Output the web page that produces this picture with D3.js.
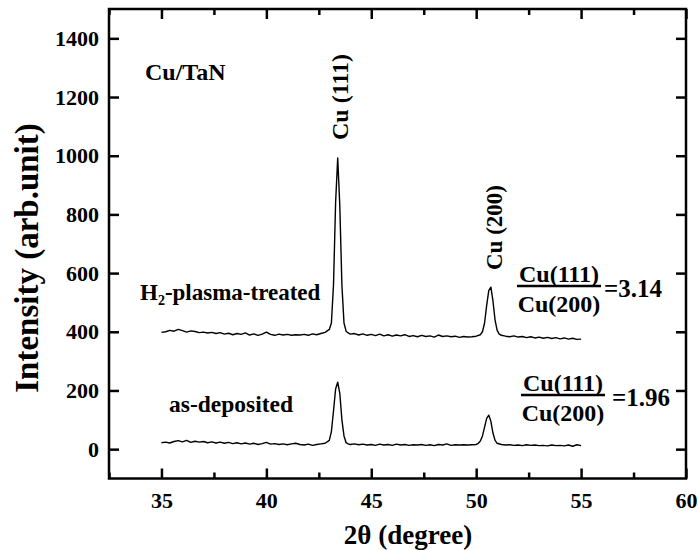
<!DOCTYPE html>
<html>
<head>
<meta charset="utf-8">
<script src="https://cdn.jsdelivr.net/npm/d3@7"></script>
<style>
  body { margin: 0; background: #fff; }
  text { font-family: "Liberation Serif", "Times New Roman", serif; font-weight: bold; fill: #000; }
</style>
</head>
<body>
<div id="chart"></div>
<script>
// 2theta (degree) and intensity readings, H2-plasma-treated sample
const treatedAngle = [35.0,35.2,35.4,35.6,35.8,36.0,36.2,36.4,36.6,36.8,37.0,37.2,37.4,37.6,37.8,38.0,38.2,38.4,38.6,38.8,
  39.0,39.2,39.4,39.6,39.8,40.0,40.2,40.4,40.6,40.8,41.0,41.2,41.4,41.6,41.8,42.0,42.2,42.4,42.6,42.8,
  43.0,43.1,43.2,43.3,43.4,43.5,43.6,43.7,43.8,43.9,44.0,44.2,44.4,44.6,44.8,45.0,45.2,45.4,45.6,45.8,
  46.0,46.2,46.4,46.6,46.8,47.0,47.2,47.4,47.6,47.8,48.0,48.2,48.4,48.6,48.8,49.0,49.2,49.4,49.6,49.8,
  50.0,50.2,50.3,50.4,50.5,50.6,50.7,50.8,50.9,51.0,51.1,51.2,51.4,51.6,51.8,52.0,52.2,52.4,52.6,52.8,
  53.0,53.2,53.4,53.6,53.8,54.0,54.2,54.4,54.6,54.8,55.0];
const treatedIntensity = [398,400,405,402,408,404,399,403,401,397,399,396,398,394,397,392,395,390,394,391,
  396,389,393,388,392,399,391,388,392,389,391,388,390,389,391,388,393,390,394,398,
  408,430,560,840,992,830,560,430,402,396,392,394,389,393,388,391,387,392,386,390,
  385,389,386,390,384,387,383,388,384,386,382,389,384,386,383,385,381,384,382,383,
  385,390,400,430,490,540,552,505,440,405,392,388,385,383,386,382,384,380,383,379,
  382,378,381,377,380,376,379,375,378,374,375];

// as-deposited sample
const depositedAngle = [35.0,35.2,35.4,35.6,35.8,36.0,36.2,36.4,36.6,36.8,37.0,37.2,37.4,37.6,37.8,38.0,38.2,38.4,38.6,38.8,
  39.0,39.2,39.4,39.6,39.8,40.0,40.2,40.4,40.6,40.8,41.0,41.2,41.4,41.6,41.8,42.0,42.2,42.4,42.6,42.8,
  43.0,43.1,43.2,43.3,43.4,43.5,43.6,43.7,43.8,43.9,44.0,44.2,44.4,44.6,44.8,45.0,45.2,45.4,45.6,45.8,
  46.0,46.2,46.4,46.6,46.8,47.0,47.2,47.4,47.6,47.8,48.0,48.2,48.4,48.6,48.8,49.0,49.2,49.4,49.6,49.8,
  50.0,50.1,50.2,50.3,50.4,50.5,50.6,50.7,50.8,50.9,51.0,51.2,51.4,51.6,51.8,52.0,52.2,52.4,52.6,52.8,
  53.0,53.2,53.4,53.6,53.8,54.0,54.2,54.4,54.6,54.8,55.0];
const depositedIntensity = [22,24,21,26,29,25,30,23,27,24,26,22,25,21,24,20,23,19,22,18,
  21,17,20,16,19,23,17,19,16,18,15,18,20,16,14,17,13,16,18,20,
  30,60,130,205,228,190,100,45,22,18,16,18,15,17,14,16,13,17,14,16,
  13,17,14,16,13,15,14,16,13,15,12,16,14,18,13,15,14,15,14,15,
  16,20,28,45,75,105,116,95,55,30,20,16,14,15,13,14,12,15,13,14,
  12,13,11,14,12,13,11,14,10,15,12];

const xMajor = [35, 40, 45, 50, 55, 60];
const xMinor = [32.5, 37.5, 42.5, 47.5, 52.5, 57.5];
const yMajor = [0, 200, 400, 600, 800, 1000, 1200, 1400];

const W = 699, H = 550;
const margin = { top: 9, right: 13, bottom: 71.5, left: 109 },
    width = W - margin.left - margin.right,
    height = H - margin.top - margin.bottom;

const svg = d3.select("#chart").append("svg")
    .attr("width", W)
    .attr("height", H);

const g = svg.append("g")
    .attr("transform", "translate(" + margin.left + "," + margin.top + ")");

const x = d3.scaleLinear().domain([32.5, 60]).range([0, width]);
const y = d3.scaleLinear().domain([-100, 1500]).range([height, 0]);

// axes with inward ticks
function styleAxis(sel) {
    sel.select(".domain").remove();
    sel.selectAll(".tick line").attr("stroke", "#000").attr("stroke-width", 2.5);
    sel.selectAll(".tick text").style("font-size", "22px").style("font-family", null);
}

g.append("g")
    .attr("transform", "translate(0," + height + ")")
    .call(d3.axisBottom(x).tickValues(xMajor).tickSize(-10).tickPadding(14).tickFormat(d3.format("d")))
    .call(styleAxis);
g.append("g")
    .attr("transform", "translate(0," + height + ")")
    .call(d3.axisBottom(x).tickValues(xMinor).tickSize(-6).tickFormat(""))
    .call(styleAxis);
g.append("g")
    .call(d3.axisTop(x).tickValues(xMajor).tickSize(-10).tickFormat(""))
    .call(styleAxis);
g.append("g")
    .call(d3.axisTop(x).tickValues(xMinor).tickSize(-6).tickFormat(""))
    .call(styleAxis);
g.append("g")
    .call(d3.axisLeft(y).tickValues(yMajor).tickSize(-10).tickPadding(10).tickFormat(d3.format("d")))
    .call(styleAxis);
g.append("g")
    .attr("transform", "translate(" + width + ",0)")
    .call(d3.axisRight(y).tickValues(yMajor).tickSize(-10).tickFormat(""))
    .call(styleAxis);

g.selectAll(".tick text").attr("fill", "#000");

// frame
g.append("rect")
    .attr("width", width)
    .attr("height", height)
    .attr("fill", "none")
    .attr("stroke", "#000")
    .attr("stroke-width", 2.5);

// spectra
const line = d3.line()
    .x(d => x(d[0]))
    .y(d => y(d[1]));

[[treatedAngle, treatedIntensity], [depositedAngle, depositedIntensity]].forEach(([a, v]) => {
    g.append("path")
        .datum(a.map((t, i) => [t, v[i]]))
        .attr("fill", "none")
        .attr("stroke", "#000")
        .attr("stroke-width", 1.4)
        .attr("stroke-linejoin", "round")
        .attr("d", line);
});

// axis titles
svg.append("text")
    .attr("x", 408)
    .attr("y", 544)
    .attr("text-anchor", "middle")
    .style("font-size", "27px")
    .text("2θ (degree)");

svg.append("text")
    .attr("transform", "translate(38,258) rotate(-90)")
    .attr("text-anchor", "middle")
    .style("font-size", "33px")
    .text("Intensity (arb.unit)");

// labels
svg.append("text").attr("x", 145).attr("y", 80).style("font-size", "24px").text("Cu/TaN");

const h2 = svg.append("text").attr("x", 140).attr("y", 300).style("font-size", "23px");
h2.append("tspan").text("H");
h2.append("tspan").attr("dy", 5).style("font-size", "14px").text("2");
h2.append("tspan").attr("dy", -5).text("-plasma-treated");

svg.append("text").attr("x", 169).attr("y", 412).style("font-size", "23.5px").text("as-deposited");

svg.append("text")
    .attr("transform", "translate(348,140) rotate(-90)")
    .style("font-size", "24px")
    .text("Cu (111)");

svg.append("text")
    .attr("transform", "translate(502,270) rotate(-90)")
    .style("font-size", "23px")
    .text("Cu (200)");

// ratio fractions
function fraction(cx, yBar, value, eqX) {
    svg.append("text").attr("x", cx).attr("y", yBar - 4).attr("text-anchor", "middle")
        .style("font-size", "24px").text("Cu(111)");
    svg.append("line").attr("x1", cx - 42).attr("x2", cx + 42)
        .attr("y1", yBar).attr("y2", yBar)
        .attr("stroke", "#000").attr("stroke-width", 2.5);
    svg.append("text").attr("x", cx).attr("y", yBar + 26).attr("text-anchor", "middle")
        .style("font-size", "24px").text("Cu(200)");
    svg.append("text").attr("x", eqX).attr("y", yBar + 11)
        .style("font-size", "25px").text("=" + value);
}
fraction(559, 286, "3.14", 604);
fraction(563, 395, "1.96", 612);
</script>
</body>
</html>
